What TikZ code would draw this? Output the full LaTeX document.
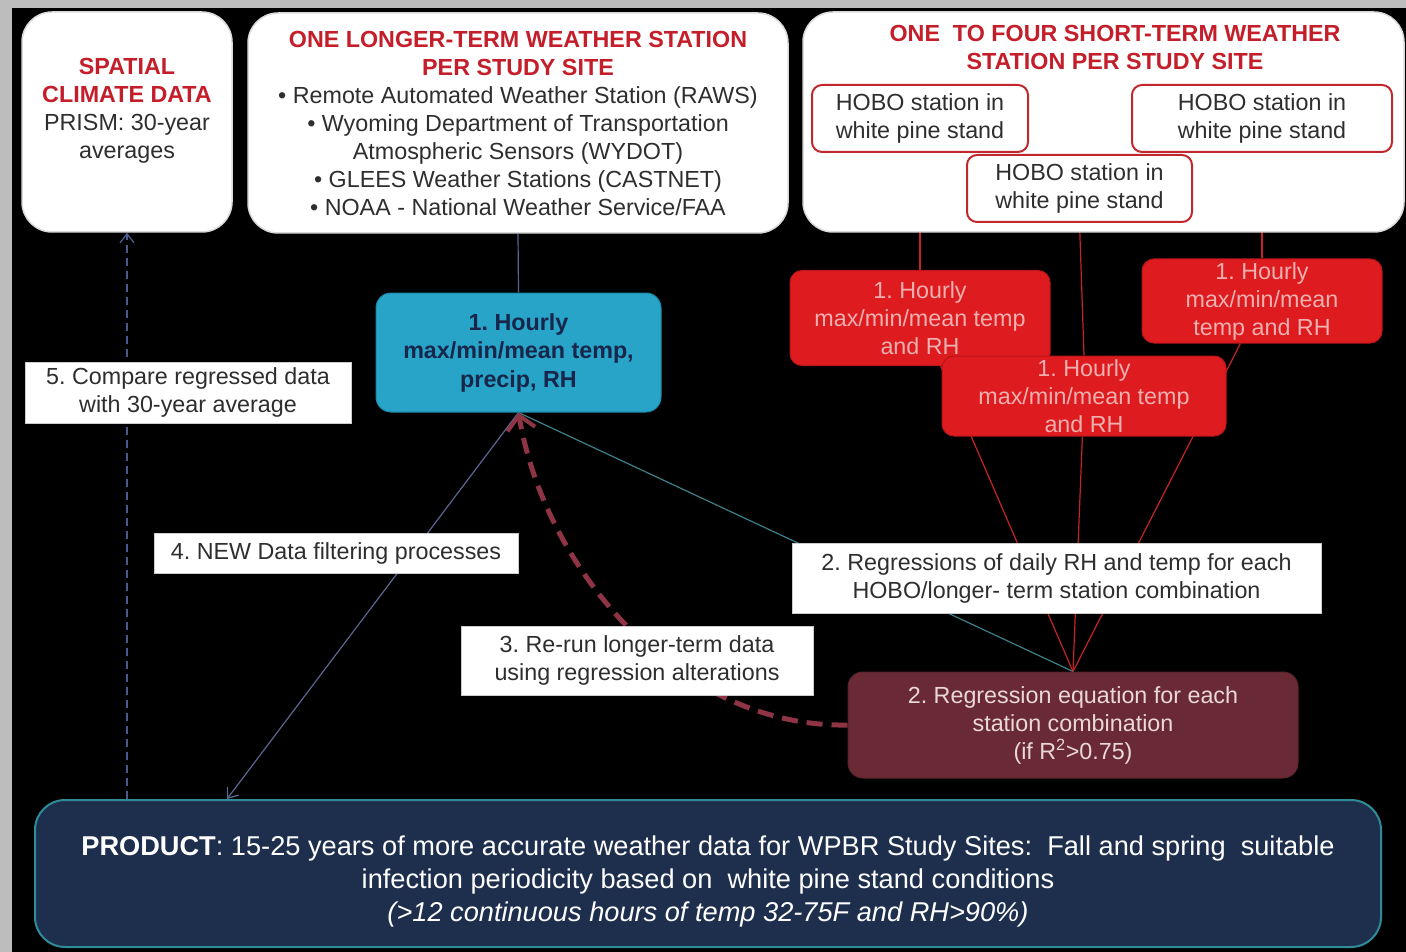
\documentclass[tikz,border=0pt]{standalone}
\usepackage{fontspec}
\setmainfont{Liberation Sans}
\usetikzlibrary{arrows.meta,positioning}
\definecolor{redhead}{HTML}{C41E2A}
\definecolor{hoboline}{HTML}{C0282E}
\definecolor{redfill}{HTML}{DE1B1F}
\definecolor{reddraw}{HTML}{B8161A}
\definecolor{redtext}{HTML}{F0B0B0}
\definecolor{bluefill}{HTML}{27A4C8}
\definecolor{bluedraw}{HTML}{1E86A8}
\definecolor{bluetext}{HTML}{17264A}
\definecolor{maroonfill}{HTML}{6A2A35}
\definecolor{maroontext}{HTML}{EAD8D8}
\definecolor{prodfill}{HTML}{1E2F4E}
\definecolor{proddraw}{HTML}{2E8C98}
\definecolor{bodytext}{HTML}{2E2E2E}
\definecolor{slate}{HTML}{5A6690}
\definecolor{tealline}{HTML}{3E7F88}
\definecolor{dashblue}{HTML}{4A5A8C}
\definecolor{dashmaroon}{HTML}{8E3444}
\definecolor{edgered}{HTML}{C62424}
\definecolor{stone}{HTML}{BDBDBD}
\pgfdeclarelayer{bg}
\pgfdeclarelayer{edges}
\pgfsetlayers{bg,edges,main}
\frenchspacing
\tikzset{
  txt/.style={font=\fontsize{23.3}{28}\selectfont, align=center, inner sep=0pt},
  bigbox/.style={draw=white!85!black, fill=white, rounded corners=30pt, line width=1.5pt, inner sep=0pt},
  hobobox/.style={draw=hoboline, fill=white, rounded corners=10pt, line width=2pt, txt, text=bodytext},
  redbox/.style={draw=reddraw, fill=redfill, rounded corners=12pt, line width=1pt, txt, text=redtext},
  labelbox/.style={draw=white!80!black, fill=white, line width=1pt, txt, text=bodytext},
  edgeline/.style={line width=1.2pt},
  barb/.style={-{Straight Barb[length=9pt,width=14pt,line width=1.3pt]}}
}
\begin{document}
\begin{tikzpicture}[x=1pt,y=-1pt]
\useasboundingbox (0,0) rectangle (1406,952);
\begin{pgfonlayer}{bg}
  \fill[stone] (0,0) rectangle (1406,952);
  \fill[black] (12,8) rectangle (1406,952);
\end{pgfonlayer}

% top boxes
\node[bigbox, minimum width=210pt, minimum height=220pt] (spatial) at (127,122) {};
\node[txt, text=bodytext] (spatialtxt) at (127,111)
  {\textbf{\color{redhead}SPATIAL}\\\textbf{\color{redhead}CLIMATE DATA}\\PRISM: 30-year\\averages};

\node[bigbox, minimum width=540pt, minimum height=220pt, txt, text=bodytext] (longer) at (518,123)
  {\textbf{\color{redhead}ONE LONGER-TERM WEATHER STATION}\\
   \textbf{\color{redhead}PER STUDY SITE}\\
   • Remote Automated Weather Station (RAWS)\\
   • Wyoming Department of Transportation\\
   Atmospheric Sensors (WYDOT)\\
   • GLEES Weather Stations (CASTNET)\\
   • NOAA - National Weather Service/FAA};

\node[bigbox, minimum width=601pt, minimum height=220pt] (short) at (1103.5,122) {};
\node[txt, text=redhead, font=\fontsize{23.3}{28}\selectfont\bfseries] (shorthead) at (1115,47)
  {ONE\ \ TO FOUR SHORT-TERM WEATHER\\STATION PER STUDY SITE};

\node[hobobox, minimum width=216pt, minimum height=67pt] (hobo1) at (920,118.5) {HOBO station in\\white pine stand};
\node[hobobox, minimum width=260pt, minimum height=67pt] (hobo2) at (1262,118.5) {HOBO station in\\white pine stand};
\node[hobobox, minimum width=225pt, minimum height=67pt] (hobo3) at (1079.5,188.5) {HOBO station in\\white pine stand};

% red boxes
\node[redbox, minimum width=260pt, minimum height=95pt] (red1) at (920,318) {1. Hourly\\max/min/mean temp\\and RH};
\node[redbox, minimum width=240pt, minimum height=84pt] (red2) at (1262,301) {1. Hourly\\max/min/mean\\temp and RH};
\node[redbox, minimum width=284pt, minimum height=80pt] (red3) at (1084,396) {1. Hourly\\max/min/mean temp\\and RH};

% blue box
\node[draw=bluedraw, fill=bluefill, rounded corners=15pt, line width=1pt, txt, text=bluetext,
      font=\fontsize{23.3}{28.5}\selectfont\bfseries, minimum width=285pt, minimum height=119pt] (blue) at (518.5,352.5)
  {1. Hourly\\max/min/mean temp,\\precip, RH};

% labels
\node[labelbox, minimum width=326pt, minimum height=61pt] (lab5) at (188,392.5) {5. Compare regressed data\\with 30-year average};
\node[labelbox, minimum width=364pt, minimum height=40pt] (lab4) at (336,553) {4. NEW Data filtering processes};
\node[labelbox, minimum width=529pt, minimum height=70pt] (lab2) at (1056.5,578) {2. Regressions of daily RH and temp for each\\HOBO/longer- term station combination};
\node[labelbox, minimum width=352pt, minimum height=69pt] (lab3) at (637,660.5) {3. Re-run longer-term data\\using regression alterations};

% maroon box
\node[draw=maroonfill!85!black, fill=maroonfill, rounded corners=15pt, line width=1pt, txt, text=maroontext,
      minimum width=450pt, minimum height=106pt] (maroon) at (1073,725)
  {2. Regression equation for each\\station combination\\(if R\textsuperscript{2}>0.75)};

% product box
\node[draw=proddraw, fill=prodfill, rounded corners=30pt, line width=2pt, inner sep=0pt,
      minimum width=1346pt, minimum height=147pt] (product) at (708,873.5) {};
\node[align=center, inner sep=0pt, text=white, font=\fontsize{27.2}{33}\selectfont] (prodtxt) at (708,881)
  {\textbf{PRODUCT}: 15-25 years of more accurate weather data for WPBR Study Sites:\ \ Fall and spring\ \ suitable\\
   infection periodicity based on\ \ white pine stand conditions\\
   \textit{(>12 continuous hours of temp 32-75F and RH>90\%)}};

% connectors
\begin{pgfonlayer}{edges}
  \draw[edgeline, color=slate] (longer.south) -- (blue.north);
  \draw[edgeline, color=edgered] (hobo1.south) -- (red1.north);
  \draw[edgeline, color=edgered] (hobo2.south) -- (red2.north);
  \draw[edgeline, color=edgered] (hobo3.south) -- (red3.north);
  \draw[edgeline, color=edgered] (red1) -- (maroon.north);
  \draw[edgeline, color=edgered] (red2) -- (maroon.north);
  \draw[edgeline, color=edgered] (red3) -- (maroon.north);
  \draw[edgeline, color=tealline] (blue.south) -- (maroon.north);
  \draw[edgeline, color=slate, barb] (blue.south) -- ([xshift=193pt]product.north west);
  \draw[line width=2.4pt, color=dashblue, dash pattern=on 8pt off 5pt, barb] (spatial.south |- product.north) -- (spatial.south);
  \draw[line width=5pt, color=dashmaroon, dash pattern=on 16pt off 9pt,
        -{Straight Barb[length=14pt,width=28pt,line width=4pt]}]
     (maroon.west) .. controls (680,728) and (545,570) .. (blue.south);
\end{pgfonlayer}
\end{tikzpicture}
\end{document}
